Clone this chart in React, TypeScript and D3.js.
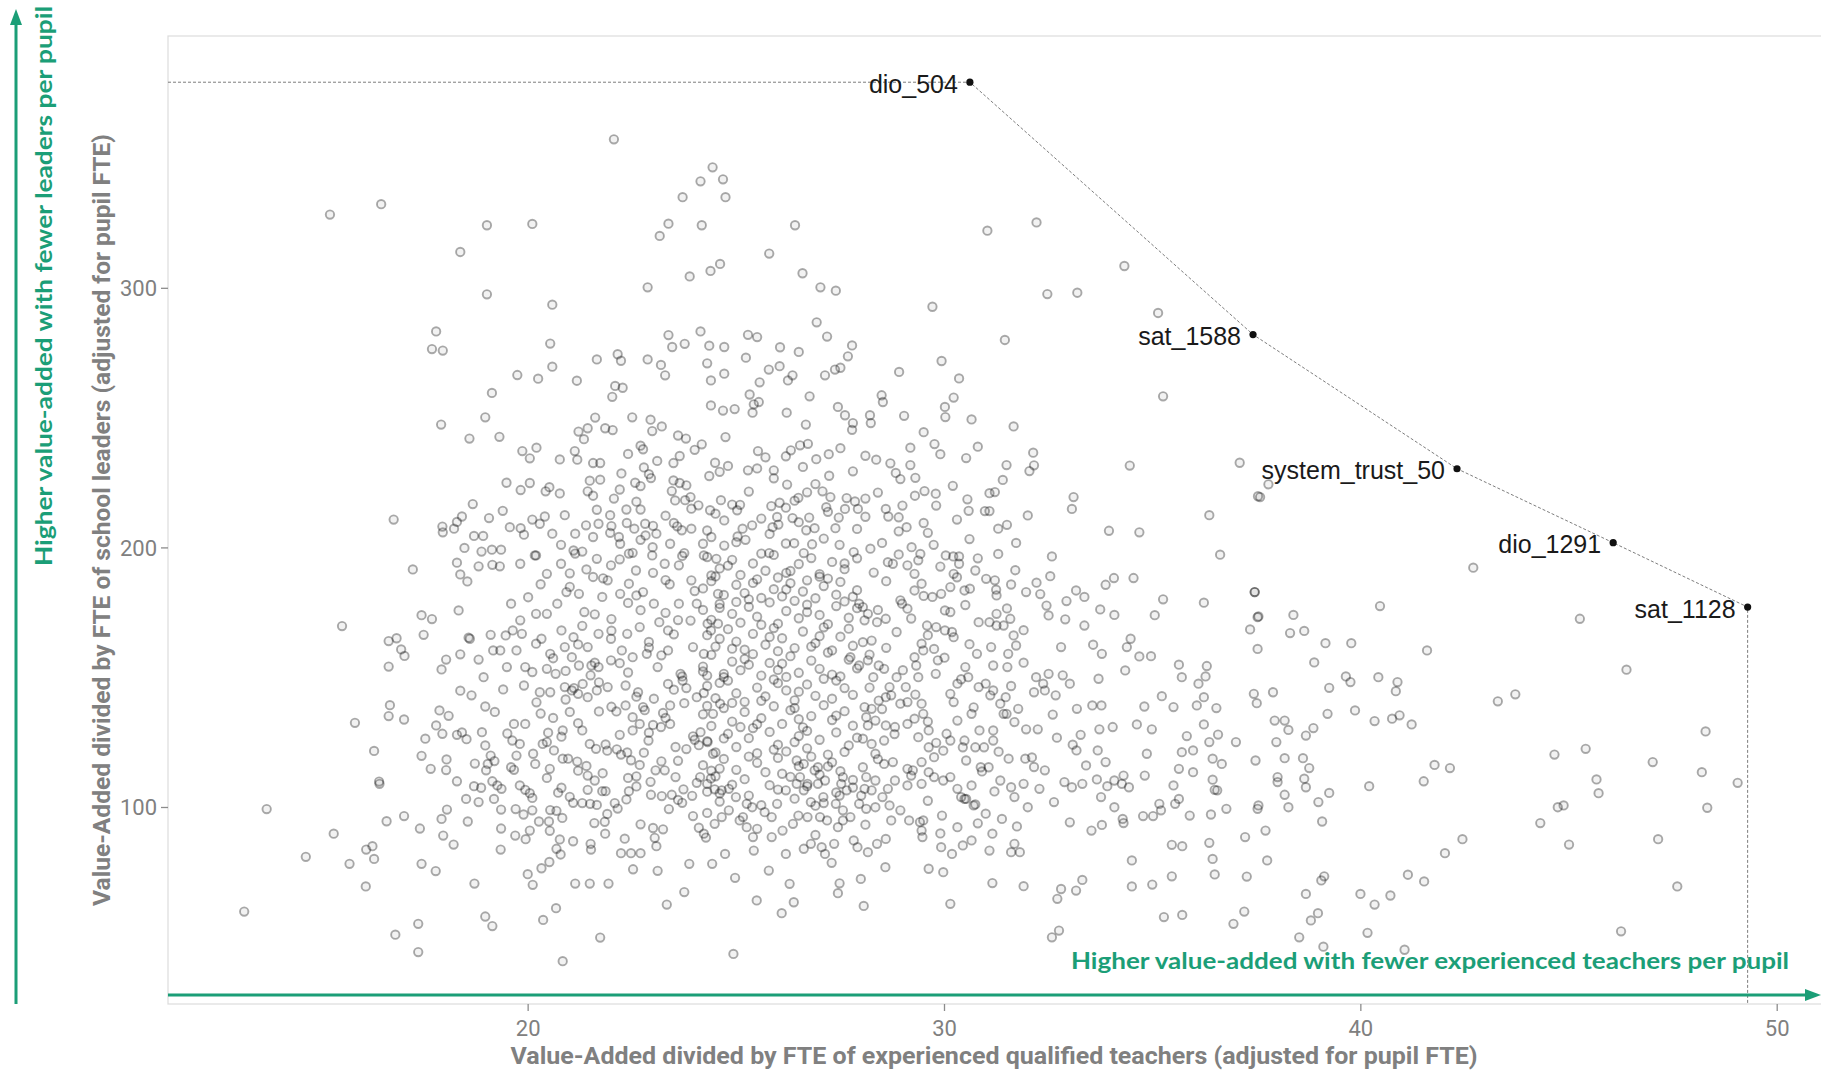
import React, { useEffect, useRef } from 'react';
import * as d3 from 'd3';

type Pt = [number, number];

// schools: [value-added per teacher FTE, value-added per leader FTE]
const upperLeftSchools: Pt[] = [
  [15.24,328.4],[16.47,332.4],[19.01,324.3],[20.10,324.8],[18.37,314.0],[22.06,357.4],[24.43,346.6],[24.14,341.2],[24.68,342.0],[23.71,335.1],
  [24.74,335.1],[23.37,324.9],[23.16,320.2],[24.17,324.3],[24.61,309.4],[24.38,306.7],[23.88,304.6],[22.87,300.4],[19.01,297.7],[20.58,293.7],
  [17.79,283.4],[17.69,276.6],[17.95,276.0],[20.53,278.7],[20.58,269.8],[19.74,266.6],[20.24,265.2],[21.17,264.4],[19.13,259.7],[21.65,272.6],
  [22.15,274.6],[22.23,272.1],[22.87,272.6],[23.19,270.5],[23.29,266.5],[23.37,282.0],[23.46,277.4],[23.76,278.6],[24.14,283.4],[24.35,277.9],
  [24.71,277.4],[24.30,271.1],[24.39,264.5],[24.71,267.1],[22.09,262.4],[22.27,261.7],[22.02,258.2],[24.39,254.9],[24.68,252.9],[18.97,250.3],
  [17.91,247.5],[18.59,242.1],[19.31,242.8],[21.61,250.2],[21.21,244.8],[21.43,246.1],[21.34,241.9],[21.85,246.1],[22.03,245.4],[22.50,250.3],
  [22.94,249.4],[22.98,245.0],[23.21,246.8],[23.60,243.3],[23.79,242.1],[24.17,239.9],[24.74,242.7],[19.86,237.3],[20.04,234.5],[20.20,238.6],
  [20.76,234.1],[21.12,237.3],[21.18,234.0],[21.56,232.7],[21.73,232.7],[22.70,239.4],[22.76,238.0],[23.49,232.7],[23.64,235.4],[24.49,232.8],
  [22.24,228.7],[22.78,231.0],[22.95,226.9],[24.35,227.7],[19.48,225.1],[19.82,222.3],[20.04,225.0],[20.42,221.8],[20.51,223.4],[20.76,221.0],
  [21.48,225.9],[21.73,226.3],[21.43,221.8],[21.56,220.1],[22.57,225.1],[22.70,223.8],[23.49,226.0],[23.64,225.0],[23.45,221.9],[23.53,218.3],
  [23.77,218.4],[22.06,219.0],[18.67,216.9],[16.77,210.9],[19.39,214.3],[19.06,211.5],[18.41,212.1],[18.29,210.0],[18.22,207.4],[17.94,208.2],
  [17.95,206.0],[19.56,208.0],[19.82,207.6],[19.90,205.1],[20.10,210.9],[20.28,209.3],[20.40,212.1],[20.88,212.6],[20.58,205.5],[21.39,208.7],
  [21.69,209.3],[21.65,214.7],[21.97,212.6],[22.36,214.8],[22.70,214.8],[22.37,209.6],[22.55,207.4],[22.81,209.3],[23.00,208.5],[23.08,205.5],
  [22.82,204.8],[21.97,205.8],[22.18,204.2],[22.21,201.6],[21.56,204.2],[21.13,205.5],[20.79,201.2],[21.09,199.0],[21.30,198.6],[18.70,204.6],
  [18.92,204.6],[18.47,200.0],[18.88,198.6],[19.13,199.3],[19.35,199.3],[20.16,197.1],[23.58,208.3],[23.69,206.8],[23.92,207.4],[24.09,216.4],
  [23.92,215.1],[24.37,214.5],[24.50,213.2],[24.63,218.4],[24.71,210.6],[24.20,201.6],[24.40,204.2],[24.71,200.9],[23.75,198.0],[22.99,200.3],
  [22.51,198.1],[23.41,201.6],
];

const upperMiddleSchools: Pt[] = [
  [26.41,324.3],[25.79,313.4],[26.59,305.8],[27.02,300.4],[27.39,299.1],[29.71,292.9],[31.03,322.2],[32.21,325.4],[34.32,308.6],[32.47,297.8],
  [33.19,298.3],[35.13,290.5],[31.45,280.1],[35.25,258.4],[26.93,286.9],[27.18,281.4],[27.78,278.0],[27.68,273.8],[25.28,282.1],[25.50,281.2],
  [26.05,277.3],[26.50,275.5],[25.23,273.3],[25.78,268.7],[26.04,270.0],[26.24,264.5],[26.35,266.5],[25.56,263.8],[25.32,259.1],[25.42,255.3],
  [25.54,256.2],[25.39,252.1],[27.13,266.5],[27.37,268.7],[27.50,269.4],[26.76,258.4],[26.21,252.1],[26.67,247.5],[27.44,254.3],[27.61,251.1],
  [27.80,248.1],[27.78,245.5],[28.21,251.1],[28.23,248.1],[28.49,258.8],[28.52,256.2],[28.91,267.8],[29.03,250.9],[29.93,272.0],[30.35,265.3],
  [30.01,254.3],[30.22,257.9],[30.02,250.4],[30.65,249.5],[31.66,246.8],[29.50,244.6],[29.76,240.0],[29.18,238.6],[29.18,231.9],[28.10,235.5],
  [28.36,234.0],[30.52,234.6],[31.49,231.9],[32.13,236.7],[32.15,231.8],[32.04,229.6],[34.45,231.7],[37.09,232.8],[37.53,219.9],[33.10,219.6],
  [33.06,215.0],[36.36,212.6],[33.95,206.6],[34.68,206.0],[36.62,197.4],[32.58,196.7],[31.72,201.9],[31.29,207.4],[31.29,197.7],[31.08,221.1],
  [31.21,221.5],[30.97,214.2],[31.08,214.2],[30.55,218.7],[30.58,214.3],[29.79,220.9],[29.52,221.9],[29.29,220.1],[29.50,209.6],[29.09,208.0],
  [28.90,206.4],[29.74,201.2],[29.21,200.3],[29.42,197.7],[28.99,216.3],[28.59,215.0],[28.65,212.1],[28.10,212.0],[27.85,217.9],[27.65,219.2],
  [27.92,215.0],[28.83,228.9],[28.94,226.5],[27.22,236.1],[27.23,227.8],[26.92,234.2],[26.72,240.1],[26.53,239.5],[26.31,237.6],[26.19,235.3],
  [25.52,237.3],[25.90,229.9],[26.22,224.4],[25.50,230.6],[25.28,229.9],[24.96,253.5],[26.70,221.4],[26.49,219.3],[27.07,221.8],[27.26,219.6],
  [27.16,215.7],[27.46,211.7],[27.38,207.6],[27.61,215.0],[26.75,211.7],[26.88,207.6],[26.68,206.8],[25.84,216.1],[26.04,217.4],[25.98,211.9],
  [25.87,208.0],[26.01,209.0],[26.35,211.5],[26.19,215.5],[25.02,214.5],[25.09,216.6],[25.38,208.7],[25.15,207.4],[25.03,204.4],[25.22,203.1],
  [25.79,198.0],[26.19,201.7],[26.39,201.8],[26.62,198.0],[26.82,201.4],[27.48,201.2],[27.82,198.4],[28.22,199.7],[30.21,196.7],[30.35,196.7],
];

const lowerLeftSchools: Pt[] = [
  [13.18,59.9],[13.72,99.4],[14.66,81.0],[15.33,89.9],[15.53,169.9],[15.84,132.6],[15.71,78.3],[16.10,69.6],[16.11,83.8],[16.26,85.1],
  [16.30,80.2],[16.30,121.8],[16.42,110.0],[16.43,109.1],[16.65,164.1],[16.84,165.2],[16.95,160.9],[17.03,158.4],[16.65,154.3],[16.68,139.4],
  [16.65,135.2],[17.02,133.9],[17.23,191.7],[17.44,174.1],[17.69,172.6],[17.49,166.5],[16.81,51.0],[17.36,55.2],[17.36,44.3],[16.60,94.7],
  [17.02,96.7],[17.40,91.9],[17.44,78.3],[17.78,75.5],[17.53,126.5],[17.44,119.9],[17.66,114.9],[17.87,137.4],[18.09,135.3],[17.79,131.6],
  [17.94,128.4],[18.04,118.5],[18.03,114.4],[18.29,110.1],[17.92,95.6],[18.05,99.2],[17.96,89.2],[18.21,85.7],[18.71,70.7],[18.97,58.0],
  [19.14,54.3],[18.33,175.9],[18.29,194.3],[18.37,189.8],[18.54,187.1],[18.81,192.9],[19.14,193.5],[19.32,192.9],[17.92,153.2],[18.03,157.0],
  [18.37,159.0],[18.57,165.4],[18.60,165.0],[18.81,157.0],[18.93,150.2],[19.10,166.5],[18.37,145.0],[18.64,143.2],[18.97,138.9],[18.89,129.0],
  [18.97,123.9],[18.41,128.9],[18.52,126.3],[18.29,128.0],[18.72,116.9],[19.10,120.0],[19.19,117.9],[18.99,114.3],[19.03,116.8],[19.14,110.1],
  [19.26,108.5],[19.36,107.2],[18.70,108.2],[18.87,107.6],[19.18,103.3],[18.51,103.3],[18.81,102.1],[19.35,99.2],[19.35,91.9],[19.34,83.8],
  [18.55,94.6],[19.69,89.2],[19.94,87.8],[20.04,91.1],[19.99,74.3],[20.11,70.2],[20.32,76.6],[20.51,79.0],[20.67,61.2],[20.36,56.7],
  [20.83,40.8],[21.73,49.9],[21.13,70.7],[21.48,70.7],[21.93,70.7],[20.68,84.1],[20.78,81.9],[20.76,87.7],[21.08,87.0],[21.50,86.0],
  [21.51,83.8],[21.59,94.0],[21.84,94.5],[21.85,89.9],[22.23,82.4],[22.47,82.4],[22.70,82.4],[22.52,76.2],[23.11,75.6],[22.32,88.0],
  [23.04,88.3],[23.24,91.6],[23.08,85.1],[23.33,62.6],[23.75,67.4],[23.87,78.3],[24.42,78.3],[22.70,93.5],[23.96,96.7],[24.10,92.2],
  [24.27,88.4],[20.26,94.6],[20.50,94.6],[20.52,91.0],[20.82,96.0],[19.70,99.4],[19.89,97.3],[20.10,98.9],[20.53,99.0],[20.68,98.7],
  [19.80,108.5],[19.93,106.8],[20.04,105.5],[20.10,103.7],[20.52,114.9],[20.45,111.4],[20.72,105.7],[20.80,107.6],[21.08,101.8],[21.30,101.7],
  [21.43,106.8],[21.49,101.4],[21.65,101.0],[21.78,106.3],[21.86,106.3],[21.43,112.3],[21.60,110.4],[21.79,113.2],[22.08,101.7],[22.15,99.6],
  [22.42,106.3],[22.36,103.1],[22.94,109.9],[22.95,104.9],[23.21,104.4],[23.45,104.9],[23.60,102.9],[23.38,99.4],[23.06,114.3],[23.28,114.3],
  [23.54,111.7],[23.73,107.0],[23.94,104.5],[24.05,109.5],[24.39,111.2],[24.48,107.0],[24.65,106.6],[22.68,116.4],[22.78,121.1],[22.47,118.2],
  [22.23,120.4],[19.59,115.5],[19.72,120.0],[19.66,114.5],[20.12,120.7],[20.17,116.8],[20.45,125.2],[20.83,118.8],[20.96,118.8],[21.18,117.7],
  [20.83,129.7],[21.30,129.7],[19.66,132.2],[19.80,124.5],[19.93,132.2],[19.62,125.8],[20.48,128.8],[20.35,124.5],[20.62,122.0],[21.48,124.5],
  [21.63,122.6],[21.86,124.3],[22.13,122.4],[22.38,121.2],[22.51,129.7],[22.68,132.2],[22.89,125.8],[23.19,131.0],[23.41,132.2],[23.54,123.3],
  [23.96,127.4],[24.14,129.0],[24.31,125.2],[24.44,120.7],[22.12,137.0],[22.34,139.3],[22.51,134.8],[22.76,138.7],[23.24,136.4],[23.41,139.3],
  [23.75,140.2],[24.05,142.5],[24.22,144.1],[24.44,136.1],[24.61,140.0],[20.28,144.4],[20.53,144.4],[20.88,146.4],[21.05,145.1],[21.31,147.6],
  [21.43,142.5],[21.65,145.1],[21.91,146.4],[22.34,147.0],[22.64,144.4],[23.02,141.9],[23.36,147.6],[23.71,148.9],[21.05,157.9],[21.22,154.7],
  [21.52,154.7],[21.69,154.1],[21.99,156.7],[20.45,153.4],[20.66,151.5],[20.10,152.2],[19.93,154.1],[19.49,154.1],[19.72,160.5],[19.33,160.5],
  [19.16,160.5],[19.46,166.3],[19.63,168.2],[19.85,166.9],[20.19,163.1],[20.32,165.0],[20.53,159.2],[20.88,161.8],[21.09,165.6],[21.43,161.8],
  [21.69,166.9],[21.99,165.0],[22.38,166.9],[22.68,169.5],[22.25,160.5],[22.51,157.9],[22.85,159.2],[23.11,154.1],[23.36,160.5],[23.66,151.5],
  [23.96,161.8],[24.22,159.2],[24.39,168.2],[24.56,170.8],[19.59,178.5],[19.81,172.1],[20.19,174.6],[20.45,174.6],[20.70,178.5],[20.92,183.0],
  [21.22,182.3],[21.35,175.3],[21.56,188.8],[21.78,181.1],[21.91,187.5],[22.21,182.3],[22.42,186.2],[22.76,183.0],[23.02,178.5],[23.15,171.4],
  [23.36,168.2],[23.62,178.5],[23.92,187.5],[24.05,178.5],[24.31,170.8],[24.56,182.3],[19.81,193.9],[20.19,197.1],[20.45,190.0],[20.79,193.9],
  [21.13,197.8],[21.65,195.8],[21.99,193.3],[22.42,197.8],[22.59,191.3],[22.98,197.1],[23.28,193.9],[23.62,193.3],[24.22,197.1],[24.52,195.8],
  [21.10,146.0],[21.20,143.8],[23.70,150.5],[23.80,146.0],[24.00,126.1],[24.10,124.0],[22.80,137.5],[23.00,131.8],[21.60,155.8],[20.90,152.6],
  [22.40,152.0],[23.30,175.0],[21.30,170.0],[20.80,168.2],[22.00,172.6],[22.70,176.0],[23.90,172.0],[20.20,140.5],[21.70,137.0],[20.60,134.5],
  [21.00,136.8],[22.20,128.0],[23.60,118.0],[24.60,115.0],[19.40,145.5],[19.20,136.8],[19.50,128.5],[21.20,114.2],[22.60,112.0],[20.30,186.0],
  [21.00,190.2],[23.40,186.0],[24.40,189.4],[22.90,163.8],[24.70,150.2],[24.30,150.8],[20.00,181.0],[19.90,147.0],
];

const lowerMiddleSchools: Pt[] = [
  [32.21,186.6],[32.54,189.1],[31.96,183.0],[33.16,183.6],[33.36,181.1],[32.93,179.5],[33.87,185.8],[34.07,188.4],[34.54,188.4],[35.25,180.2],
  [36.23,178.9],[35.05,174.1],[37.45,183.0],[37.52,173.3],[37.34,168.6],[37.52,161.1],[32.45,177.8],[32.50,174.0],[33.74,176.3],[34.08,174.2],
  [33.36,170.1],[32.80,161.8],[33.57,162.7],[33.78,159.2],[34.38,161.8],[34.47,165.0],[34.68,158.2],[34.96,158.3],[32.84,150.9],[33.01,147.7],
  [32.67,143.2],[32.20,150.2],[32.37,147.7],[32.41,145.1],[32.15,144.4],[32.50,151.5],[33.70,149.6],[34.34,152.8],[35.63,155.0],[35.70,150.2],
  [36.30,154.5],[36.10,147.7],[36.27,150.5],[35.22,142.9],[35.50,138.7],[36.06,139.3],[36.23,142.5],[36.53,138.3],[34.80,138.9],[33.18,138.0],
  [33.55,139.3],[33.77,139.3],[33.72,130.1],[34.04,131.0],[34.62,132.0],[34.98,130.1],[36.23,132.0],[33.27,128.0],[33.08,124.2],[33.17,122.0],
  [33.68,122.0],[33.87,117.5],[33.40,116.2],[34.86,120.7],[35.70,121.3],[35.97,122.0],[35.82,127.5],[36.36,125.2],[37.00,125.2],[36.57,128.1],
  [36.44,118.8],[36.66,116.8],[35.63,114.9],[35.97,113.6],[34.81,112.3],[35.50,108.5],[36.44,110.7],[36.49,106.8],[36.55,106.6],[32.88,109.8],
  [33.06,107.8],[33.31,109.1],[33.66,110.8],[33.91,108.2],[34.08,110.4],[34.30,112.3],[34.26,109.1],[33.76,104.0],[34.08,100.1],[34.43,107.8],
  [35.63,103.3],[35.54,101.4],[35.16,101.4],[35.20,98.9],[35.01,96.7],[34.77,96.7],[34.30,94.0],[34.28,95.6],[36.77,99.5],[36.40,97.3],
  [35.89,96.9],[33.01,94.3],[33.53,91.1],[33.78,93.3],[37.22,88.6],[37.52,99.5],[35.46,85.6],[35.71,85.1],[36.36,86.4],[36.44,80.2],
  [36.49,74.2],[37.26,73.4],[34.50,79.6],[34.50,69.6],[34.99,70.3],[35.46,73.5],[35.27,57.8],[35.71,58.6],[37.20,59.9],[36.94,55.2],
  [33.31,72.1],[33.16,68.0],[32.80,68.6],[32.71,64.8],[32.58,50.0],[32.75,52.6],[31.90,69.7],[31.15,70.9],[30.14,62.9],[29.62,76.4],
  [29.97,75.1],[28.06,62.1],[27.44,67.0],[27.48,70.8],[27.99,72.5],[28.58,77.0],[27.29,78.7],[26.38,63.5],[26.09,59.3],[25.49,64.2],
  [26.28,70.6],[25.78,75.7],[24.97,72.9],[24.93,43.6],[24.73,82.1],[25.42,83.4],[25.40,88.6],[26.19,82.1],[26.62,84.1],[26.79,86.0],
  [27.05,84.7],[27.13,82.1],[27.35,86.0],[27.82,87.3],[27.91,84.7],[28.16,82.8],[28.38,86.0],[28.59,87.9],[29.49,95.0],[29.45,91.1],
  [29.47,88.6],[29.92,84.7],[30.18,82.1],[30.44,85.4],[30.65,87.3],[31.08,83.4],[31.60,82.8],[31.81,82.8],[31.68,86.0],[29.94,96.9],
  [30.31,92.4],[30.52,103.3],[30.74,101.2],[30.99,97.6],[31.15,89.9],[31.38,95.6],[31.74,92.7],[32.00,100.1],[32.63,102.1],[31.34,110.4],
  [31.60,107.8],[31.68,104.0],[31.90,109.1],[32.28,107.2],[32.41,114.3],[32.15,115.6],[31.94,118.8],[31.54,118.8],[30.74,123.2],[30.95,123.2],
  [31.17,125.8],[30.87,115.5],[31.06,115.5],[30.48,125.8],[30.44,123.2],[30.52,118.1],[30.65,108.5],[30.48,103.3],[31.68,132.9],[31.96,130.1],
  [32.24,130.1],[31.49,136.1],[31.77,138.0],[31.34,140.0],[31.17,129.7],[30.84,129.7],[30.65,136.1],[30.31,133.5],[30.82,146.4],[30.99,147.7],
  [31.17,145.1],[31.47,142.5],[31.42,136.1],[31.10,143.2],[30.50,154.1],[30.57,150.2],[30.31,147.7],[30.14,143.8],[30.22,140.6],[30.78,159.2],
  [31.12,161.8],[31.53,159.2],[31.51,154.1],[31.17,154.7],[31.72,162.4],[30.82,171.4],[31.08,171.4],[31.25,170.1],[31.42,170.1],[31.58,172.7],
  [31.66,166.3],[31.25,174.6],[31.25,181.7],[31.24,183.9],[31.00,188.1],[31.21,187.5],[30.74,191.3],[30.35,193.9],[30.22,190.0],[30.03,197.1],
  [30.48,183.6],[30.61,184.3],[30.01,175.9],[30.14,175.3],[30.18,167.6],[30.22,165.6],[30.01,168.2],[29.80,169.5],[29.58,170.1],[29.45,163.1],
  [29.49,160.5],[29.28,157.9],[29.32,154.7],[29.37,150.2],[29.75,161.1],[29.84,156.7],[29.79,151.5],[29.28,183.6],[29.45,186.2],[29.71,181.1],
  [29.92,182.3],[30.14,184.9],[29.28,190.0],[29.37,195.2],[29.11,193.3],[28.76,193.9],[28.64,194.5],[28.94,179.8],[28.98,178.5],[29.11,176.6],
  [28.85,167.6],[28.59,172.7],[28.38,171.4],[28.16,174.6],[28.04,177.2],[27.95,178.5],[28.08,172.1],[28.25,164.3],[28.04,163.7],[27.74,157.9],
  [27.95,154.7],[28.16,156.7],[28.42,154.7],[28.55,153.4],[28.29,150.2],[28.85,150.2],[28.68,146.4],[28.59,142.5],[28.72,143.2],[29.07,146.4],
  [28.94,140.0],[29.11,140.6],[29.49,136.1],[29.45,140.0],[28.08,138.7],[28.25,138.0],[28.42,141.2],[28.12,134.8],[28.16,131.6],[28.34,133.5],
  [28.59,131.6],[28.81,131.0],[29.11,132.2],[29.28,134.2],[29.62,129.7],[29.37,127.1],[28.04,126.5],[28.25,124.5],[28.55,125.8],[28.34,120.7],
  [28.55,116.8],[28.76,117.5],[29.11,114.9],[29.24,114.3],[29.62,123.2],[29.75,119.4],[30.05,128.4],[30.14,125.8],[29.97,121.9],[29.45,117.5],
  [29.62,113.6],[28.04,115.5],[28.12,111.7],[28.34,110.4],[28.08,107.2],[28.25,106.6],[28.64,107.2],[28.81,110.4],[29.11,108.5],[29.45,109.1],
  [29.75,111.7],[29.97,110.4],[30.14,111.7],[30.31,107.2],[30.40,104.0],[30.70,100.8],[27.95,101.4],[28.12,99.5],[28.34,100.1],[28.51,104.0],
  [28.68,100.8],[28.72,95.0],[28.94,98.9],[29.15,95.0],[29.41,94.4],[27.56,111.7],[27.52,109.1],[27.65,106.6],[27.48,104.6],[27.39,101.4],
  [27.56,98.9],[27.74,96.3],[27.56,95.0],[27.44,92.4],[27.18,95.0],[27.01,96.3],[26.71,96.3],[26.49,96.9],[26.36,93.7],[26.11,91.1],
  [25.85,88.6],[25.25,92.4],[25.08,95.0],[24.82,98.9],[24.65,96.3],[24.48,93.7],[24.22,89.9],[26.96,115.5],[26.88,114.3],[26.62,116.8],
  [26.45,118.1],[26.53,111.7],[26.71,109.1],[26.96,109.1],[27.13,110.4],[27.09,104.0],[26.79,102.1],[26.62,106.6],[26.45,109.1],[26.19,106.6],
  [25.98,101.4],[25.85,96.3],[25.68,98.2],[25.38,100.1],[25.25,101.4],[25.16,96.3],[24.99,104.0],[24.82,107.2],[24.30,109.1],[24.13,111.7],
];

// the thickest part of the cloud, estimated where single schools cannot be told apart
const coreSchools: Pt[] = [
  [24.3,196.5],[24.6,192.1],[24.9,195.4],[25.1,189.6],[25.4,194.0],[25.7,191.2],[25.9,197.3],[26.2,190.4],[26.5,193.8],[26.8,196.1],
  [27.0,189.9],[27.3,194.6],[27.6,191.8],[27.9,196.0],[24.5,189.0],[26.0,188.6],[27.2,188.2],[24.2,184.4],[24.4,187.2],[24.7,181.9],
  [25.0,185.8],[25.2,182.6],[25.5,187.9],[25.6,180.7],[25.9,184.1],[26.1,181.3],[26.3,186.4],[26.6,183.2],[26.9,180.6],[27.1,185.3],
  [27.4,182.0],[27.5,186.9],[27.8,181.2],[25.3,180.2],[26.7,187.5],[24.2,176.1],[24.4,172.3],[24.6,178.4],[24.9,174.6],[25.1,171.2],
  [25.3,177.3],[25.5,173.5],[25.8,179.0],[26.0,170.8],[26.2,175.7],[26.5,172.9],[26.7,178.1],[27.0,174.2],[27.2,170.6],[27.4,177.6],
  [27.7,173.1],[27.9,176.8],[25.0,179.2],[26.4,179.6],[24.3,166.4],[24.5,162.0],[24.8,168.7],[25.0,163.9],[25.2,160.8],[25.4,166.9],
  [25.7,162.7],[25.9,169.1],[26.1,165.2],[26.4,161.4],[26.6,167.8],[26.9,163.3],[27.1,169.4],[27.3,160.5],[27.5,165.8],[27.8,162.3],
  [24.6,165.0],[26.0,160.2],[27.0,166.0],[24.2,154.3],[24.4,158.8],[24.7,151.5],[24.9,156.2],[25.1,152.9],[25.4,159.1],[25.6,150.8],
  [25.8,155.7],[26.0,153.0],[26.3,158.3],[26.5,151.9],[26.8,156.6],[27.0,153.4],[27.2,159.7],[27.5,150.5],[27.7,157.0],[27.9,153.6],
  [25.3,155.0],[26.2,150.3],[24.3,146.8],[24.5,142.1],[24.8,148.9],[25.0,144.0],[25.2,140.7],[25.5,146.2],[25.7,142.8],[25.9,149.3],
  [26.2,145.1],[26.4,141.3],[26.7,147.4],[26.9,143.0],[27.1,149.6],[27.3,141.9],[27.6,146.0],[27.8,143.4],[24.9,140.3],[26.0,147.9],
  [24.2,135.9],[24.4,131.4],[24.7,138.3],[24.9,133.1],[25.2,136.8],[25.4,130.6],[25.6,134.4],[25.9,139.0],[26.1,132.2],[26.3,137.5],
  [26.6,130.9],[26.8,135.2],[27.1,139.4],[27.3,133.7],[27.6,137.1],[27.8,131.5],[25.1,131.0],[26.5,134.0],[24.3,125.6],[24.5,121.2],
  [24.8,128.4],[25.0,123.3],[25.3,126.7],[25.5,120.9],[25.8,129.1],[26.0,124.2],[26.2,121.6],[26.5,127.5],[26.7,122.8],[27.0,126.1],
  [27.2,120.4],[27.4,128.9],[27.7,123.9],[27.9,126.9],[26.4,125.2],[24.2,116.3],[24.5,112.0],[24.7,118.7],[25.0,114.5],[25.2,110.9],
  [25.5,117.2],[25.7,113.6],[26.0,119.1],[26.3,111.8],[26.5,115.9],[26.8,119.6],[27.0,112.7],[27.3,117.4],[27.5,114.0],[27.8,110.6],
  [24.3,106.1],[24.6,102.3],[24.9,108.8],[25.3,104.6],[25.6,100.9],[26.0,106.9],[26.4,103.4],[26.7,108.2],[27.1,101.7],[27.4,105.8],
  [27.8,107.7],
];

// more of the same cloud, second pass over the crowded middle
const crowdedSchools: Pt[] = [
  [22.4,236.2],[23.1,233.5],[24.0,237.8],[24.8,231.6],[25.7,234.9],[26.6,231.2],[27.5,238.4],[28.7,232.6],[29.9,236.1],[30.8,239.0],
  [22.2,222.5],[22.9,228.4],[23.8,224.1],[24.6,229.3],[25.3,221.7],[25.9,226.8],[26.9,224.6],[27.8,229.5],[28.4,221.3],[29.3,227.0],
  [30.2,223.9],[31.4,226.2],[22.6,217.8],[23.3,212.4],[23.9,219.6],[24.9,216.7],[25.6,211.3],[26.4,218.2],[27.2,213.9],[28.1,219.0],
  [28.9,211.8],[29.8,216.3],[30.3,210.9],[32.0,212.5],[22.0,208.4],[22.7,203.1],[23.5,209.6],[24.3,206.7],[25.0,202.2],[25.8,205.4],
  [26.5,209.9],[27.1,203.6],[27.9,207.3],[28.5,201.9],[29.6,205.8],[30.6,203.4],[31.5,208.9],[21.4,191.7],[22.2,195.6],[23.0,190.4],
  [23.7,196.9],[24.8,193.2],[25.6,197.8],[26.3,191.1],[27.6,194.0],[28.3,190.5],[28.9,197.5],[29.9,192.8],[30.8,196.0],[31.7,191.4],
  [21.0,185.0],[21.8,188.3],[22.6,181.7],[23.3,187.6],[24.0,183.4],[25.4,186.5],[26.2,184.0],[27.0,188.9],[27.9,183.7],[28.6,187.2],
  [29.5,181.5],[30.3,188.7],[31.6,185.9],[32.3,182.2],[21.6,174.4],[22.4,178.8],[23.6,172.2],[24.6,176.9],[25.6,170.4],[26.7,175.3],
  [27.6,179.4],[28.4,176.1],[29.2,172.8],[30.5,178.0],[31.5,176.7],[32.9,172.5],[21.2,162.8],[22.0,168.1],[22.9,161.6],[23.5,166.7],
  [24.9,161.2],[25.8,165.7],[26.8,162.0],[27.7,168.9],[28.6,161.5],[29.6,166.4],[30.6,162.9],[31.9,168.3],[20.6,157.5],[21.5,150.9],
  [22.2,155.6],[23.2,158.6],[24.2,152.4],[25.2,157.2],[26.1,155.4],[27.3,151.2],[28.2,158.9],[29.0,152.9],[30.0,157.7],[31.9,155.8],
  [20.9,141.6],[21.7,148.2],[22.6,142.7],[23.5,145.4],[24.6,148.0],[25.6,141.1],[26.5,144.6],[27.4,148.9],[28.2,146.2],[29.3,143.5],
  [30.4,149.4],[31.6,146.8],[20.3,136.2],[21.2,132.5],[22.0,138.8],[23.3,134.5],[24.3,139.1],[25.5,132.1],[26.4,138.3],[27.4,135.4],
  [28.5,137.9],[29.6,133.1],[30.7,138.6],[32.6,135.8],[20.8,127.3],[21.9,121.9],[22.9,128.8],[23.8,122.5],[24.7,126.6],[25.9,122.3],
  [26.7,129.5],[27.6,121.4],[28.8,128.3],[29.8,124.9],[31.3,121.5],[32.7,126.9],[21.4,116.0],[22.4,111.4],[23.2,117.8],[24.4,114.2],
  [25.3,119.6],[26.1,113.0],[27.2,115.8],[28.4,118.6],[29.2,112.3],[30.9,113.9],[32.1,119.3],[21.0,104.1],[22.6,108.1],[23.7,101.8],
  [24.6,105.4],[25.8,108.6],[26.9,100.7],[28.0,104.6],[29.6,102.6],[31.2,106.2],[21.9,97.5],[23.0,92.1],[24.3,97.9],[25.5,91.8],
  [26.9,89.4],[28.1,93.4],[29.9,90.0],[30.8,93.9],
];

const eastSchools: Pt[] = [
  [37.58,219.6],[37.78,224.5],[42.70,192.4],[37.45,183.0],[37.54,173.6],[38.38,174.2],[40.46,177.6],[45.26,172.7],[38.30,167.2],[38.64,168.0],
  [39.15,163.3],[39.77,163.3],[41.59,160.5],[38.88,155.9],[39.64,150.5],[39.75,148.3],[40.42,150.2],[40.88,148.3],[40.84,144.8],[39.24,146.1],
  [37.43,143.8],[37.50,140.2],[37.89,144.4],[39.86,137.4],[39.20,136.1],[40.33,133.3],[40.75,134.2],[40.93,135.5],[41.22,132.0],[37.93,133.5],
  [38.17,133.5],[38.26,129.9],[38.68,127.7],[38.86,130.6],[37.97,125.2],[37.47,118.1],[38.17,119.0],[38.61,119.0],[38.76,115.2],[38.00,111.7],
  [38.00,109.8],[38.64,111.1],[38.68,107.8],[38.17,104.9],[39.24,105.6],[38.98,102.1],[37.54,100.8],[38.26,100.1],[39.07,94.6],[37.71,91.1],
  [37.75,79.6],[40.20,108.2],[41.51,110.1],[41.77,116.4],[42.14,115.2],[43.29,140.9],[43.71,143.6],[46.38,153.1],[48.28,129.3],[44.65,120.4],
  [45.40,122.6],[47.01,117.5],[48.19,113.6],[45.66,110.8],[45.71,105.5],[49.05,109.5],[44.73,100.1],[44.87,100.8],[44.31,94.0],[45.00,85.7],
  [48.32,99.9],[47.14,87.8],[42.44,87.8],[42.02,82.4],[41.13,74.1],[41.52,71.5],[39.05,71.9],[39.12,73.5],[38.68,66.7],[39.99,66.7],
  [40.33,62.6],[40.71,66.1],[38.97,59.3],[38.80,56.5],[47.60,69.6],[46.25,52.3],[38.52,50.0],[39.10,46.4],[40.16,51.7],[41.05,45.2],
];

// efficiency frontier
const frontierNames = ['dio_504', 'sat_1588', 'system_trust_50', 'dio_1291', 'sat_1128'];
const frontierX = [30.61, 37.41, 42.31, 46.06, 49.29];
const frontierY = [379.4, 282.2, 230.5, 202.0, 177.2];

const xTicks = [20, 30, 40, 50];
const yTicks = [100, 200, 300];

const xTitle = 'Value-Added divided by FTE of experienced qualified teachers (adjusted for pupil FTE)';
const yTitle = 'Value-Added divided by FTE of school leaders (adjusted for pupil FTE)';
const xNote = 'Higher value-added with fewer experienced teachers per pupil';
const yNote = 'Higher value-added with fewer leaders per pupil';

const GREEN = '#1b9e77';
const GREY = '#808080';
const NARROW = '"Liberation Sans Narrow", "Arial Narrow", "Roboto", sans-serif';

const App = () => {
  const ref = useRef<SVGSVGElement>(null);

  useEffect(() => {
    if (!ref.current) return;
    const svg = d3.select(ref.current);
    svg.selectAll('*').remove();

    const left = 168, right = 1823, top = 36, bottom = 1004;

    const x = d3.scaleLinear().domain([11.35, 51.1]).range([left, right]);
    const y = d3.scaleLinear().domain([24.3, 397.2]).range([bottom, top]);

    // panel
    svg.append('rect')
      .attr('x', left).attr('y', top)
      .attr('width', right - left).attr('height', bottom - top)
      .attr('fill', 'white').attr('stroke', '#dcdcdc').attr('stroke-width', 1.2);

    // ticks + labels
    const gx = svg.append('g');
    gx.selectAll('line').data(xTicks).join('line')
      .attr('x1', d => x(d)).attr('x2', d => x(d))
      .attr('y1', bottom).attr('y2', bottom + 7)
      .attr('stroke', '#8c8c8c').attr('stroke-width', 1.3);
    gx.selectAll('text').data(xTicks).join('text')
      .attr('x', d => x(d)).attr('y', bottom + 32)
      .attr('text-anchor', 'middle')
      .attr('font-family', NARROW).attr('font-size', 22).attr('fill', GREY)
      .text(d => d);

    const gy = svg.append('g');
    gy.selectAll('line').data(yTicks).join('line')
      .attr('x1', left - 7).attr('x2', left)
      .attr('y1', d => y(d)).attr('y2', d => y(d))
      .attr('stroke', '#8c8c8c').attr('stroke-width', 1.3);
    gy.selectAll('text').data(yTicks).join('text')
      .attr('x', left - 11).attr('y', d => y(d))
      .attr('dy', '0.35em')
      .attr('text-anchor', 'end')
      .attr('font-family', NARROW).attr('font-size', 22).attr('fill', GREY)
      .text(d => d);

    // axis titles
    svg.append('text')
      .attr('x', 994).attr('y', 1064)
      .attr('text-anchor', 'middle')
      .attr('font-family', NARROW).attr('font-weight', 'bold')
      .attr('font-size', 23).attr('fill', GREY)
      .attr('textLength', 967).attr('lengthAdjust', 'spacingAndGlyphs')
      .text(xTitle);
    svg.append('text')
      .attr('transform', `translate(110,${(top + bottom) / 2}) rotate(-90)`)
      .attr('text-anchor', 'middle')
      .attr('font-family', NARROW).attr('font-weight', 'bold')
      .attr('font-size', 23).attr('fill', GREY)
      .attr('textLength', 772).attr('lengthAdjust', 'spacingAndGlyphs')
      .text(yTitle);

    // all schools
    const schools = [
      ...upperLeftSchools, ...upperMiddleSchools, ...lowerLeftSchools,
      ...lowerMiddleSchools, ...coreSchools, ...crowdedSchools, ...eastSchools,
    ];
    svg.append('g')
      .selectAll('circle').data(schools).join('circle')
      .attr('cx', d => x(d[0])).attr('cy', d => y(d[1]))
      .attr('r', 4.2)
      .attr('fill', '#000').attr('fill-opacity', 0.05)
      .attr('stroke', '#000').attr('stroke-opacity', 0.33).attr('stroke-width', 1.9);

    // frontier, extended to the panel edges
    const frontier: Pt[] = frontierX.map((v, i) => [v, frontierY[i]]);
    const path: Pt[] = [
      [x.domain()[0], frontierY[0]],
      ...frontier,
      [frontierX[frontierX.length - 1], y.domain()[0]],
    ];
    const line = d3.line<Pt>().x(d => x(d[0])).y(d => y(d[1]));
    svg.append('path')
      .attr('d', line(path))
      .attr('fill', 'none')
      .attr('stroke', '#6e6e6e').attr('stroke-width', 0.9)
      .attr('stroke-dasharray', '3,2');

    svg.append('g')
      .selectAll('circle').data(frontier).join('circle')
      .attr('cx', d => x(d[0])).attr('cy', d => y(d[1]))
      .attr('r', 3.6).attr('fill', '#111');

    svg.append('g')
      .selectAll('text').data(frontier).join('text')
      .attr('x', d => x(d[0]) - 12).attr('y', d => y(d[1]))
      .attr('dy', '0.42em')
      .attr('text-anchor', 'end')
      .attr('font-family', '"Liberation Sans", Arial, sans-serif')
      .attr('font-size', 25).attr('fill', '#1a1a1a')
      .text((d, i) => frontierNames[i]);

    // direction arrows
    const arrows = svg.append('g');
    arrows.append('line')
      .attr('x1', 16).attr('x2', 16).attr('y1', bottom).attr('y2', 22)
      .attr('stroke', GREEN).attr('stroke-width', 3);
    arrows.append('path')
      .attr('d', 'M16,9 L10,25 L22,25 Z').attr('fill', GREEN);
    arrows.append('line')
      .attr('x1', left).attr('x2', 1808).attr('y1', 995).attr('y2', 995)
      .attr('stroke', GREEN).attr('stroke-width', 3);
    arrows.append('path')
      .attr('d', 'M1821,995 L1805,989 L1805,1001 Z').attr('fill', GREEN);

    arrows.append('text')
      .attr('x', 1071).attr('y', 969)
      .attr('font-family', 'Lato, "Open Sans", sans-serif').attr('font-weight', 'bold')
      .attr('font-size', 23).attr('fill', GREEN)
      .attr('textLength', 718).attr('lengthAdjust', 'spacingAndGlyphs')
      .text(xNote);
    arrows.append('text')
      .attr('transform', 'translate(52,566) rotate(-90)')
      .attr('font-family', 'Lato, "Open Sans", sans-serif').attr('font-weight', 'bold')
      .attr('font-size', 23).attr('fill', GREEN)
      .attr('textLength', 560).attr('lengthAdjust', 'spacingAndGlyphs')
      .text(yNote);
  }, []);

  return (
    <svg
      ref={ref}
      width={1821}
      height={1073}
      style={{ position: 'absolute', left: 0, top: 0, background: 'white' }}
    />
  );
};

export default App;
